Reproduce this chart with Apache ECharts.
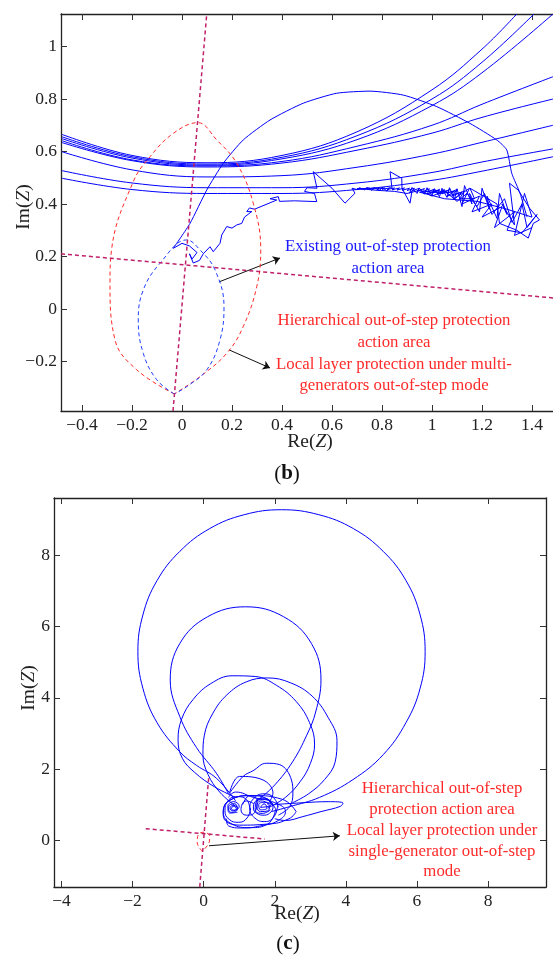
<!DOCTYPE html>
<html>
<head>
<meta charset="utf-8">
<script src="https://cdn.jsdelivr.net/npm/echarts@6/dist/echarts.min.js"></script>
<style>
  html, body { margin: 0; padding: 0; background: #fff; }
  #chart { width: 553px; height: 961px; }
</style>
</head>
<body>
<div id="chart"></div>
<script>
// ---- panel (b) data ----
var bTicksX = [-0.4, -0.2, 0, 0.2, 0.4, 0.6, 0.8, 1, 1.2, 1.4];
var bTicksY = [-0.2, 0, 0.2, 0.4, 0.6, 0.8, 1];

// family of large blue arcs
var bArcs = [
  [[-0.48,0.665],[-0.2,0.585],[0.1,0.557],[0.4,0.585],[0.7,0.675],[1.0,0.835],[1.2,0.99],[1.339,1.124]],
  [[-0.48,0.656],[-0.2,0.58],[0.1,0.552],[0.4,0.578],[0.7,0.66],[1.0,0.8],[1.2,0.94],[1.408,1.124]],
  [[-0.48,0.649],[-0.2,0.575],[0.1,0.548],[0.4,0.572],[0.7,0.645],[1.0,0.775],[1.2,0.9],[1.484,1.124]],
  [[-0.48,0.641],[-0.2,0.568],[0.1,0.545],[0.4,0.562],[0.7,0.62],[1.0,0.7],[1.2,0.78],[1.484,0.885]],
  [[-0.48,0.634],[-0.2,0.565],[0.1,0.541],[0.4,0.556],[0.7,0.605],[1.0,0.67],[1.2,0.73],[1.484,0.80]],
  [[-0.48,0.599],[-0.2,0.53],[0.1,0.503],[0.4,0.508],[0.7,0.54],[1.0,0.59],[1.2,0.635],[1.484,0.70]],
  [[-0.48,0.527],[-0.2,0.48],[0.1,0.462],[0.4,0.462],[0.7,0.48],[1.0,0.52],[1.2,0.56],[1.484,0.61]],
  [[-0.48,0.498],[-0.2,0.455],[0.1,0.44],[0.4,0.44],[0.7,0.455],[1.0,0.49],[1.2,0.525],[1.484,0.58]]
];

// big swing arc of the trajectory
var bSwing = [[-0.035,0.231],[0.032,0.326],[0.099,0.453],[0.165,0.555],[0.245,0.644],[0.352,0.72],
  [0.485,0.784],[0.619,0.822],[0.752,0.83],[0.885,0.815],[1.019,0.771],[1.152,0.707],[1.259,0.644],
  [1.299,0.606],[1.319,0.517],[1.352,0.441],[1.38,0.35]];

// jagged path from origin towards the cluster
var bWiggle = [[-0.035,0.231],[0.0,0.25],[0.03,0.24],[0.06,0.215],[0.04,0.19],[0.03,0.21],[0.045,0.175],
  [0.07,0.185],[0.085,0.21],[0.112,0.237],[0.125,0.218],[0.152,0.25],[0.159,0.282],[0.179,0.314],
  [0.2,0.308],[0.219,0.32],[0.239,0.326],[0.25,0.35],[0.279,0.371],[0.259,0.371],[0.27,0.385],
  [0.29,0.38],[0.379,0.415],[0.352,0.42],[0.385,0.428],[0.39,0.41],[0.45,0.412],[0.539,0.409],
  [0.53,0.44],[0.49,0.448],[0.5,0.462],[0.54,0.46],[0.525,0.523],[0.6,0.46],[0.652,0.403],
  [0.692,0.441],[0.68,0.46]];

// dense oscillation cluster
var bCluster = [[0.68,0.46],[0.7,0.455],[0.71,0.462],[0.73,0.454],[0.74,0.463],[0.76,0.452],[0.77,0.462],
  [0.79,0.451],[0.8,0.464],[0.82,0.449],[0.83,0.462],[0.84,0.46],[0.832,0.523],[0.879,0.498],[0.88,0.46],
  [0.912,0.403],[0.92,0.45],[0.91,0.442],[0.92,0.463],[0.94,0.44],[0.95,0.46],[0.97,0.437],[0.98,0.462],
  [1.0,0.432],[1.01,0.458],[1.03,0.428],[1.04,0.46],[1.06,0.425],[1.07,0.462],[1.09,0.418],[1.1,0.458],
  [1.12,0.39],[1.13,0.47],[1.16,0.4],[1.15,0.44],[1.19,0.37],[1.2,0.46],[1.23,0.38],[1.22,0.43],
  [1.26,0.345],[1.27,0.44],[1.3,0.36],[1.28,0.4],[1.33,0.32],[1.31,0.479],[1.345,0.453],[1.39,0.384],
  [1.43,0.339],[1.405,0.326],[1.385,0.27],[1.339,0.30],[1.27,0.326],[1.26,0.40],[1.152,0.46],[1.17,0.42],
  [1.11,0.42],[1.13,0.45],[1.08,0.43],[1.1,0.455],[1.06,0.44],[1.07,0.456],[1.04,0.438],[1.05,0.455],
  [1.02,0.44],[1.03,0.456],[1.0,0.442],[1.01,0.457],[0.98,0.445],[0.99,0.458],[0.96,0.446],[0.97,0.459],
  [0.94,0.448],[0.95,0.46],[0.92,0.45],[0.93,0.46],[0.9,0.451],[0.91,0.46],[0.88,0.452],[0.89,0.461],
  [0.86,0.453],[0.87,0.461],[0.84,0.454],[0.85,0.461],[0.82,0.455],[0.83,0.461],[0.8,0.456],[0.81,0.461],
  [0.78,0.456],[0.79,0.461],[0.76,0.457],[0.77,0.461],[0.74,0.457],[0.75,0.461],[0.72,0.458],[0.7,0.459],
  [0.78,0.452],[0.85,0.448],[0.9,0.44],[0.95,0.452],[1.0,0.43],[1.05,0.45],[1.1,0.41],[1.14,0.44],
  [1.18,0.39],[1.21,0.44],[1.24,0.36],[1.29,0.42],[1.32,0.33],[1.36,0.4],[1.38,0.31],[1.42,0.36],
  [1.36,0.29],[1.3,0.3],[1.33,0.37],[1.25,0.31],[1.28,0.39],[1.2,0.35],[1.24,0.4],[1.16,0.37],
  [1.19,0.43],[1.12,0.4],[1.15,0.46],[1.09,0.42],[1.12,0.445],[1.06,0.43],[1.09,0.448],[1.02,0.438],
  [1.06,0.45],[0.98,0.44],[1.03,0.452],[0.95,0.445],[1.05,0.42],[1.18,0.41],[1.3,0.38],[1.4,0.35],
  [1.37,0.44],[1.33,0.28],[1.4,0.31]];

// protection characteristics
var bRedLens = [[-0.031,-0.324],[-0.181,-0.232],[-0.268,-0.118],[-0.288,0.098],[-0.281,0.231],
  [-0.195,0.485],[-0.128,0.58],[-0.035,0.669],[0.063,0.71],[0.139,0.644],[0.219,0.555],[0.285,0.403],
  [0.315,0.225],[0.299,0.085],[0.245,-0.067],[0.179,-0.169],[0.072,-0.258],[-0.031,-0.324]];
var bBlueLens = [[-0.031,-0.324],[-0.101,-0.27],[-0.155,-0.169],[-0.175,-0.042],[-0.155,0.072],
  [-0.088,0.174],[0.019,0.263],[0.072,0.225],[0.132,0.149],[0.168,0.009],[0.152,-0.118],
  [0.099,-0.232],[0.019,-0.296],[-0.031,-0.324]];
var bVertLine = [[-0.036,-0.389],[0.099,1.124]];
var bHorizLine = [[-0.484,0.21],[1.484,0.042]];
var bArrows = [[[0.148,0.103],[0.392,0.194]], [[0.188,-0.156],[0.352,-0.225]]];

// ---- panel (c) data ----
var cTicksX = [-4, -2, 0, 2, 4, 6, 8];
var cTicksY = [0, 2, 4, 6, 8];

var cLoopBig = [[0.9,1.1],[0.357,1.74],[-0.2,2.1],[-0.67,2.48],[-1.31,3.3],[-1.71,4.27],[-1.85,5.3],
  [-1.71,6.33],[-1.31,7.3],[-0.67,8.12],[0.17,8.76],[1.14,9.15],[2.19,9.29],[3.24,9.15],[4.21,8.76],
  [5.05,8.12],[5.69,7.3],[6.09,6.33],[6.23,5.3],[6.09,4.27],[5.69,3.3],[5.05,2.4],[4.2,1.7],
  [3.26,1.2],[2.42,0.94],[1.9,0.8]];
var cLoop2 = [[0.7,1.3],[0.357,1.88],[-0.2,2.6],[-0.67,3.47],[-0.94,4.5],[-0.67,5.53],[0.11,6.28],
  [1.18,6.56],[2.25,6.28],[3.03,5.53],[3.3,4.5],[3.15,3.6],[2.9,2.95],[2.5,2.2],[2.0,1.55],[1.5,1.1]];
var cLoop3 = [[0.9,1.2],[0.3,1.5],[-0.25,1.9],[-0.6,2.3],[-0.72,2.82],[-0.62,3.4],[-0.3,3.95],
  [0.2,4.4],[0.8,4.62],[1.45,4.6],[2.05,4.35],[2.6,3.9],[2.98,3.3],[3.12,2.7],[3.0,2.15],[2.72,1.65],
  [2.3,1.2],[1.8,0.9]];
var cLoop4 = [[0.9,0.95],[0.45,1.35],[0.12,1.85],[-0.02,2.4],[0.02,2.95],[0.25,3.55],[0.65,4.08],
  [1.2,4.45],[1.8,4.56],[2.45,4.42],[3.05,4.05],[3.5,3.45],[3.75,2.8],[3.7,2.2],[3.4,1.7],[2.95,1.3],
  [2.5,1.05]];
var cLoop5 = [[0.73,1.32],[1.11,1.79],[1.39,1.95],[1.76,2.16],[2.14,2.12],[2.47,1.69],[2.51,1.32],
  [2.42,0.94],[2.1,0.7]];
var cLoop6 = [[0.73,1.33],[1.01,1.79],[1.67,1.69],[1.95,1.32],[1.8,1.0]];
var cLoopLong = [[2.0,1.0],[2.8,1.05],[3.5,1.08],[3.92,1.04],[3.85,0.95],[3.3,0.8],[2.79,0.66],
  [2.3,0.55],[2.0,0.6]];
var cKnots = [
  [[1.3,0.85],[1.22,1.12],[0.95,1.22],[0.68,1.1],[0.6,0.82],[0.72,0.58],[0.98,0.5],[1.22,0.62],[1.32,0.9]],
  [[2.1,0.92],[1.96,1.2],[1.7,1.3],[1.4,1.16],[1.3,0.88],[1.44,0.62],[1.72,0.52],[1.98,0.66],[2.08,0.98]],
  [[2.05,0.8],[1.8,1.15],[1.3,1.25],[0.8,1.15],[0.55,0.8],[0.8,0.45],[1.3,0.35],[1.8,0.45],[2.02,0.84]],
  [[2.6,0.8],[2.2,1.15],[1.4,1.25],[0.7,1.1],[0.55,0.7],[1.0,0.42],[1.8,0.45],[2.4,0.6],[2.6,0.8]],
  [[1.95,0.95],[1.85,1.12],[1.65,1.18],[1.45,1.08],[1.4,0.9],[1.5,0.75],[1.7,0.7],[1.9,0.8],[1.95,0.95],
   [1.8,1.05],[1.6,1.1],[1.5,0.95],[1.6,0.8],[1.8,0.82],[1.85,0.95],[1.72,1.06],[1.55,1.0],[1.6,0.85],
   [1.78,0.9],[1.7,1.02],[1.6,0.92],[1.9,1.0],[1.75,1.15],[1.5,1.1],[1.45,0.85],[1.65,0.75],[1.88,0.85]],
  [[0.95,0.9],[0.88,1.02],[0.75,1.0],[0.7,0.88],[0.78,0.78],[0.9,0.8],[0.95,0.9],[0.82,0.97],
   [0.74,0.9],[0.82,0.82],[0.92,0.88],[0.84,0.95],[0.78,0.88],[0.86,0.84],[1.0,0.95],[0.85,1.08],
   [0.68,0.95],[0.74,0.76],[0.95,0.78]],
  [[0.64,0.6],[0.7,0.4],[1.1,0.34],[1.6,0.4],[2.1,0.55],[2.3,0.8],[2.0,1.05],[1.4,1.2],[0.9,1.35],[0.7,1.2]],
  [[1.1,1.0],[1.3,1.25],[1.5,1.1],[1.45,0.8],[1.2,0.7],[1.05,0.85],[1.2,1.1],[1.42,1.02]]
];
var cRedLens = [[-0.04,-0.32],[-0.18,-0.08],[-0.17,0.1],[-0.1,0.2],[0.02,0.22],[0.17,0.12],[0.15,-0.08],[-0.04,-0.32]];
var cVertLine = [[0.14,1.74],[-0.11,-1.32]];
var cHorizLine = [[-1.63,0.32],[1.72,0.03]];
var cArrows = [[[0.15,-0.16],[3.83,0.12]]];

var blue = '#0000ff';
var red = '#ff2a2a';
var purple = '#c0206a';
var serif = 'Liberation Serif';

function fmt(v) { return String(v).replace('-', '\u2212'); }

function line(xi, yi, pts, color, dash, smooth, width) {
  return {
    type: 'line', xAxisIndex: xi, yAxisIndex: yi, data: pts, symbol: 'none',
    smooth: smooth || false, silent: true,
    lineStyle: { color: color, width: width || 1, type: dash ? [4, 3] : 'solid' }
  };
}

function arrow(xi, yi, seg) {
  return {
    type: 'lines', coordinateSystem: 'cartesian2d', xAxisIndex: xi, yAxisIndex: yi,
    symbol: ['none', 'arrow'], symbolSize: 7, silent: true,
    lineStyle: { color: '#111', width: 1, opacity: 1, curveness: 0 },
    data: [{ coords: seg }]
  };
}

function xAx(grid, min, max, ticks, pos, showLabel) {
  return {
    type: 'value', gridIndex: grid, position: pos, min: min, max: max,
    axisLine: { show: true, onZero: false, lineStyle: { color: '#222', width: 1.3 } },
    axisTick: { show: true, inside: true, length: 6, customValues: ticks, lineStyle: { color: '#333' } },
    axisLabel: { show: showLabel, customValues: ticks, formatter: fmt, margin: 5,
      color: '#222', fontFamily: serif, fontSize: 17.5 },
    splitLine: { show: false }
  };
}

function yAx(grid, min, max, ticks, pos, showLabel) {
  return {
    type: 'value', gridIndex: grid, position: pos, min: min, max: max,
    axisLine: { show: true, onZero: false, lineStyle: { color: '#222', width: 1.3 } },
    axisTick: { show: true, inside: true, length: 6, customValues: ticks, lineStyle: { color: '#333' } },
    axisLabel: { show: showLabel, customValues: ticks, formatter: fmt, margin: 4,
      color: '#222', fontFamily: serif, fontSize: 17.5 },
    splitLine: { show: false }
  };
}

function txt(x, y, s, color, size, rot) {
  return {
    type: 'text', x: x, y: y, rotation: rot || 0, silent: true,
    style: {
      text: s, fill: color, fontFamily: serif, fontSize: size,
      align: 'center', verticalAlign: 'middle',
      rich: { i: { fontStyle: 'italic', fontFamily: serif, fontSize: size, fill: color },
              b: { fontWeight: 'bold', fontFamily: serif, fontSize: size, fill: color } }
    }
  };
}

var series = [];
// panel b (x axes 0/1, y axis 0)
bArcs.forEach(function (a) { series.push(line(0, 0, a, blue, false, 0.4)); });
series.push(line(0, 0, bSwing, blue, false, 0.2));
series.push(line(0, 0, bWiggle, blue));
series.push(line(0, 0, bCluster, blue));
series.push(line(0, 0, bRedLens, red, true, 0.4));
series.push(line(0, 0, bBlueLens, '#2040ff', true, 0.4));
series.push(line(0, 0, bVertLine, purple, true, false, 1.5));
series.push(line(0, 0, bHorizLine, purple, true, false, 1.5));
bArrows.forEach(function (s) { series.push(arrow(0, 0, s)); });
// panel c (x axes 2/3, y axis 1)
[cLoopBig, cLoop2, cLoop3, cLoop4, cLoop5, cLoop6, cLoopLong].forEach(function (a) {
  series.push(line(2, 1, a, blue, false, 0.4));
});
cKnots.forEach(function (a) { series.push(line(2, 1, a, blue, false, 0.5)); });
series.push(line(2, 1, cRedLens, red, true, 0.3));
series.push(line(2, 1, cVertLine, purple, true, false, 1.5));
series.push(line(2, 1, cHorizLine, purple, true, false, 1.5));
cArrows.forEach(function (s) { series.push(arrow(2, 1, s)); });

var chart = echarts.init(document.getElementById('chart'), null, { renderer: 'canvas' });
chart.setOption({
  animation: false,
  backgroundColor: '#fff',
  grid: [
    { left: 61, top: 14, width: 492, height: 397 },
    { left: 54, top: 498, width: 492, height: 389 }
  ],
  xAxis: [
    xAx(0, -0.484, 1.484, bTicksX, 'bottom', true),
    xAx(0, -0.484, 1.484, bTicksX, 'top', false),
    xAx(1, -4.21, 9.63, cTicksX, 'bottom', true),
    xAx(1, -4.21, 9.63, cTicksX, 'top', false)
  ],
  yAxis: [
    yAx(0, -0.389, 1.124, bTicksY, 'left', true),
    yAx(1, -1.32, 9.62, cTicksY, 'left', true),
    yAx(1, -1.32, 9.62, cTicksY, 'right', false)
  ],
  series: series,
  graphic: [
    txt(388, 247, 'Existing out-of-step protection', '#1a1aff', 16.8),
    txt(388, 269, 'action area', '#1a1aff', 16.8),
    txt(394, 321, 'Hierarchical out-of-step protection', red, 16.8),
    txt(394, 343, 'action area', red, 16.8),
    txt(394, 364.5, 'Local layer protection under multi-', red, 16.8),
    txt(394, 386, 'generators out-of-step mode', red, 16.8),
    txt(310, 442, 'Re({i|Z})', '#222', 19.5),
    txt(24, 207, 'Im({i|Z})', '#222', 19.5, Math.PI / 2),
    txt(287, 474, '({b|b})', '#111', 21),
    txt(442, 789, 'Hierarchical out-of-step', red, 16.8),
    txt(442, 810, 'protection action area', red, 16.8),
    txt(442, 831, 'Local layer protection under', red, 16.8),
    txt(442, 852, 'single-generator out-of-step', red, 16.8),
    txt(442, 872, 'mode', red, 16.8),
    txt(297, 914, 'Re({i|Z})', '#222', 19.5),
    txt(29, 688, 'Im({i|Z})', '#222', 19.5, Math.PI / 2),
    txt(288, 944, '({b|c})', '#111', 21)
  ]
});
</script>
</body>
</html>
